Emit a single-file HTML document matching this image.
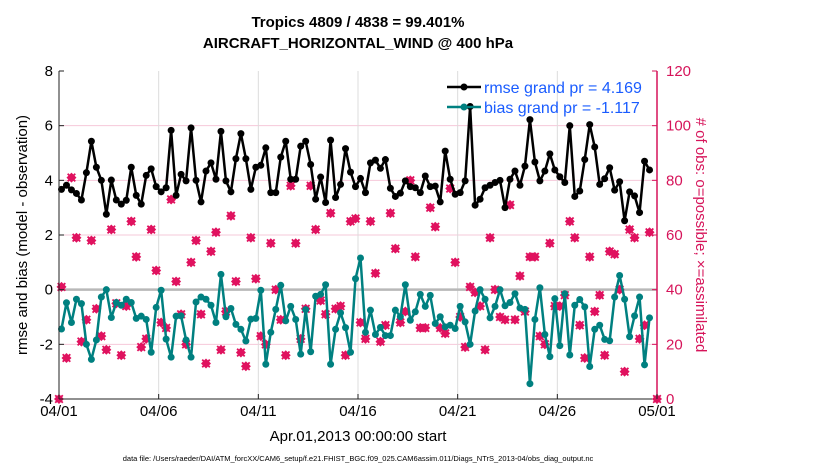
<!DOCTYPE html>
<html><head><meta charset="utf-8"><style>
body{margin:0;background:#fff;width:830px;height:470px;overflow:hidden}
svg{font-family:"Liberation Sans",sans-serif}
</style></head><body>
<svg id="chart" width="830" height="470" viewBox="0 0 830 470" xmlns="http://www.w3.org/2000/svg">
<rect width="830" height="470" fill="#fff"/>
<text x="358" y="27" text-anchor="middle" font-size="15" font-weight="bold">Tropics 4809 / 4838 = 99.401%</text>
<text x="358" y="48" text-anchor="middle" font-size="15" font-weight="bold">AIRCRAFT_HORIZONTAL_WIND @ 400 hPa</text>
<g id="grid"></g>
<g id="marks"></g>
<g id="axes"></g>
<text transform="translate(27,235) rotate(-90)" text-anchor="middle" font-size="15">rmse and bias (model - observation)</text>
<text transform="translate(696,235) rotate(90)" text-anchor="middle" font-size="15" fill="#d6145a"># of obs: o=possible; ×=assimilated</text>
<text x="358" y="441" text-anchor="middle" font-size="15">Apr.01,2013 00:00:00 start</text>
<text x="358" y="461" text-anchor="middle" font-size="7.5">data file: /Users/raeder/DAI/ATM_forcXX/CAM6_setup/f.e21.FHIST_BGC.f09_025.CAM6assim.011/Diags_NTrS_2013-04/obs_diag_output.nc</text>
<g>
<line x1="447" y1="87" x2="481" y2="87" stroke="#000" stroke-width="2.5"/><circle cx="464" cy="87" r="3.5" fill="#000"/>
<text x="484" y="93" font-size="16" fill="#1a5cff">rmse grand pr = 4.169</text>
<line x1="447" y1="107" x2="481" y2="107" stroke="#008080" stroke-width="2.5"/><circle cx="464" cy="107" r="3.5" fill="#008080"/>
<text x="484" y="113" font-size="16" fill="#1a5cff">bias grand pr = -1.117</text>
</g>
</svg>
<script>
const rmse=[3.67,3.82,3.65,3.52,3.28,4.28,5.43,4.48,4.0,2.76,4.01,3.28,3.13,3.27,4.48,3.45,3.13,4.18,4.42,3.77,3.58,3.73,5.83,3.45,4.22,3.98,5.92,4.0,3.21,4.34,4.64,4.04,5.79,3.98,3.58,4.79,5.71,4.79,3.67,4.48,4.55,5.19,3.55,3.55,4.85,5.43,4.04,4.04,5.25,5.43,4.58,3.31,4.12,3.19,5.47,3.37,3.85,5.16,4.3,3.77,4.07,3.55,4.64,4.74,4.44,4.76,3.71,3.41,3.53,3.98,3.77,3.73,3.55,4.16,3.77,3.79,3.21,5.07,4.04,3.49,3.55,3.98,6.7,3.09,3.31,3.73,3.82,3.92,4.0,3.0,4.04,4.34,3.82,4.52,6.22,4.67,3.98,4.34,4.97,4.38,4.13,3.92,6.0,3.41,3.61,4.76,6.04,5.22,3.85,4.06,4.46,3.64,3.95,2.52,3.58,3.43,2.82,4.7,4.38];
const bias=[-1.44,-0.48,-1.2,-0.35,-0.51,-2.0,-2.55,-1.84,-0.27,0,-1.02,-0.47,-0.57,-0.35,-0.47,-1.05,-0.97,-1.09,-2.29,-0.65,-0.02,-1.81,-2.47,-0.97,-0.96,-1.84,-2.47,-0.45,-0.27,-0.35,-0.57,-1.2,0.56,-0.99,-0.69,-1.27,-1.45,-1.88,-1.08,-1.05,-0.02,-2.73,-1.56,-0.72,0.16,-1.14,-0.61,-1.09,-2.36,-0.73,-2.27,-0.24,-0.17,0.18,-2.73,-1.45,-0.85,-1.39,-2.29,0.4,1.16,-1.56,-0.75,-1.64,-1.38,-1.68,-1.68,-0.75,-0.99,0.18,-1.12,-0.81,-0.17,-0.61,-0.21,-1.24,-0.99,-1.36,-1.3,-1.42,-0.61,-1.18,-2.0,-0.78,0,-0.35,-1.03,-0.61,0,-0.59,-0.47,-0.15,-0.67,-0.72,-3.44,-1.09,0.07,-1.64,-2.45,-0.33,-2.05,-0.15,-2.39,-0.57,-0.36,-0.63,-2.81,-1.45,-1.3,-1.82,-1.87,-0.27,0.52,-0.35,-1.72,-0.96,-0.27,-2.75,-1.03];
const obsCount=[41,15,81,59,21,29,58,33,23,18,62,35,16,34,65,52,19,22,62,47,28,26,73,43,31,20,50,58,31,13,54,61,18,32,67,43,17,12,59,44,23,20,57,40,29,16,78,57,22,33,78,62,36,31,68,33,34,16,65,66,28,22,65,46,21,27,68,55,28,32,80,52,26,26,70,63,26,24,77,50,30,19,41,39,34,18,59,40,30,29,71,29,45,32,52,52,23,20,57,34,34,38,65,59,27,15,52,32,38,16,54,53,40,10,62,59,22,27,61];
const edgeDays=[0,30];
const edgeCounts=[0,0];
const yTicksLeft=[-4,-2,0,2,4,6,8];
const yTicksRight=[0,20,40,60,80,100,120];
const xTickDays=[0,5,10,15,20,25,30];
const xTickLabels=["04/01","04/06","04/11","04/16","04/21","04/26","05/01"];

const NS="http://www.w3.org/2000/svg";
const X0=59,X1=657,Y0=399,Y1=71;
const xDay=d=>X0+d/30*(X1-X0);
const xIdx=i=>xDay((i+0.5)/4);
const yL=v=>Y0-(v+4)/12*(Y0-Y1);
const yR=c=>Y0-c/120*(Y0-Y1);
function mk(tag,attrs,parent){const e=document.createElementNS(NS,tag);for(const k in attrs)e.setAttribute(k,attrs[k]);parent.appendChild(e);return e;}
const grid=document.getElementById('grid'),marks=document.getElementById('marks'),axes=document.getElementById('axes');
mk('rect',{x:X0,y:Y1,width:X1-X0,height:Y0-Y1,fill:'#fff'},grid);
yTicksRight.forEach(c=>{if(c>0&&c<120&&c!==40){const l=mk('line',{x1:X0,x2:X1,y1:yR(c),y2:yR(c),stroke:'#f6c8da','stroke-width':1},grid);

}});
xTickDays.forEach(d=>{if(d>0&&d<30){const l=mk('line',{x1:xDay(d),x2:xDay(d),y1:Y1,y2:Y0,stroke:'#dcdcdc','stroke-width':1},grid);

}});
const zl=mk('line',{x1:X0,x2:X1,y1:yL(0),y2:yL(0),stroke:'#b8b8b8','stroke-width':2.5},grid);



function star(x,y){const g=mk('g',{},marks);


mk('path',{d:`M${x} ${y-5}L${x+5} ${y}L${x} ${y+5}L${x-5} ${y}Z`,fill:'#e0125f'},g);
mk('path',{d:`M${x-3.8} ${y-3.8}L${x+3.8} ${y+3.8}M${x-3.8} ${y+3.8}L${x+3.8} ${y-3.8}`,stroke:'#e0125f','stroke-width':1.8},g);}
obsCount.forEach((c,i)=>star(xIdx(i),yR(c)));
edgeCounts.forEach((c,i)=>star(xDay(edgeDays[i]),yR(c)));

function series(vals,color,name){
const p=mk('polyline',{points:vals.map((v,i)=>xIdx(i)+','+yL(v)).join(' '),fill:'none',stroke:color,'stroke-width':2.5,'stroke-linejoin':'round'},marks);


vals.forEach((v,i)=>{const c=mk('circle',{cx:xIdx(i),cy:yL(v),r:3.5,fill:color},marks);

});}
series(bias,'#008080','bias');
series(rmse,'#000','rmse');

mk('line',{x1:X0,x2:X0,y1:Y1,y2:Y0,stroke:'#222','stroke-width':1},axes);
mk('line',{x1:X0,x2:X1,y1:Y0,y2:Y0,stroke:'#222','stroke-width':1},axes);
mk('line',{x1:X1,x2:X1,y1:Y1,y2:Y0,stroke:'#d6145a','stroke-width':1.5},axes);
yTicksLeft.forEach(v=>{mk('line',{x1:X0,x2:X0+5,y1:yL(v),y2:yL(v),stroke:'#222'},axes);
const t=mk('text',{x:X0-6,y:yL(v)+5,'text-anchor':'end','font-size':15},axes);t.textContent=v;

});
yTicksRight.forEach(c=>{mk('line',{x1:X1-5,x2:X1,y1:yR(c),y2:yR(c),stroke:'#d6145a'},axes);
const t=mk('text',{x:X1+9,y:yR(c)+5,'font-size':15,fill:'#d6145a'},axes);t.textContent=c;

});
xTickDays.forEach((d,i)=>{mk('line',{x1:xDay(d),x2:xDay(d),y1:Y0,y2:Y0-5,stroke:'#222'},axes);
const t=mk('text',{x:xDay(d),y:Y0+17,'text-anchor':'middle','font-size':15},axes);t.textContent=xTickLabels[i];

});
</script>
</body></html>
